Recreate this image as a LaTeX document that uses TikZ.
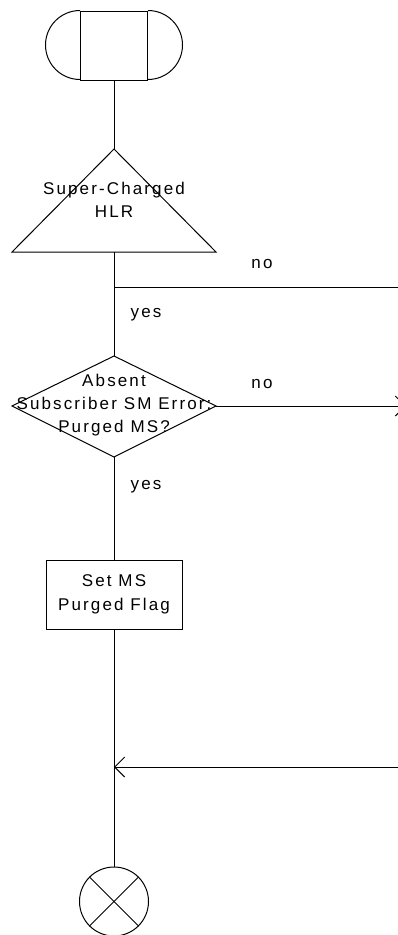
\documentclass[tikz,border=0pt]{standalone}
\usepackage{fontspec}
\setmainfont{Liberation Sans}[LetterSpace=12.5]
\usetikzlibrary{arrows.meta}
\begin{document}
\begin{tikzpicture}[x=1pt,y=-1pt,
  line width=1pt,
  lbl/.style={font=\fontsize{17}{23}\selectfont, inner sep=0pt, align=center},
  barb/.style={-{Straight Barb[length=10pt,width=20pt,line width=1pt]}},
  proc/.style={draw, line width=1pt, minimum width=136pt, minimum height=69pt, inner sep=0pt, font=\fontsize{17}{24}\selectfont, align=center}
]
\useasboundingbox (0,0) rectangle (398,935);
% start terminal
\node[draw, minimum width=67pt, minimum height=69pt, inner sep=0pt] (start) at (114,45.5) {};
\draw (start.north west) arc[start angle=90, end angle=270, radius=34.5pt];
\draw (start.north east) arc[start angle=90, end angle=-90, radius=34.5pt];
% triangle (Super-Charged HLR)
\coordinate (trtop) at (114,149);
\coordinate (trbot) at (114,252);
\draw (trtop) -- (216,252) -- (12,252) -- cycle;
\node[lbl] (hlr) at (114,199.5) {Super-Charged\\HLR};
% decision diamond
\coordinate (dtop) at (114,356);
\coordinate (dbot) at (114,457);
\coordinate (dright) at (216,406);
\draw (dtop) -- (dright) -- (dbot) -- (12,406) -- cycle;
\node[lbl] (dec) at (114,405) {Absent\\Subscriber SM Error:\\Purged MS?};
% process box
\node[proc] (set) at (114,594.5) {Set MS\\Purged Flag};
% end circle
\node[draw, circle, minimum size=69pt, inner sep=0pt] (stop) at (114,901.5) {};
\draw (stop.north west) -- (stop.south east);
\draw (stop.north east) -- (stop.south west);
% junctions
\coordinate (j1) at (114,287);
\coordinate (r1) at (398,287);
\coordinate (r2) at (406,406);
\coordinate (j2) at (114,767);
\coordinate (r3) at (398,767);
% connectors
\draw (start.south) -- (trtop);
\draw (trbot) -- (dtop);
\draw (j1) -- (r1);
\draw[barb] (dright) -- (r2);
\draw (dbot) -- (set.north);
\draw (set.south) -- (stop.north);
\draw[barb] (r3) -- (j2);
% labels
\node[lbl] (no1) at (262,264) {no};
\node[lbl] (yes1) at (146,315) {yes};
\node[lbl] (no2) at (262,384) {no};
\node[lbl] (yes2) at (146,487) {yes};
\end{tikzpicture}
\end{document}
